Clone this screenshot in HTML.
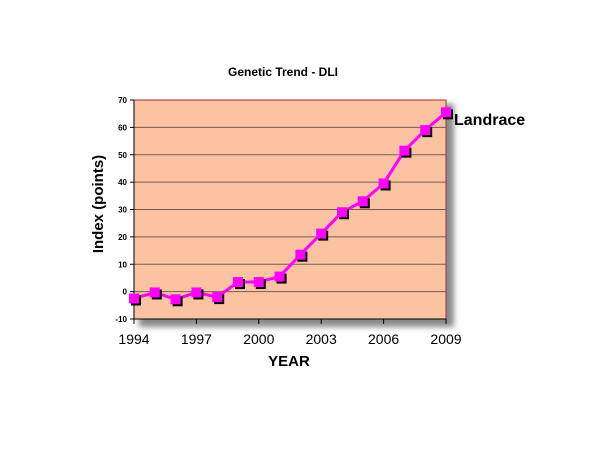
<!DOCTYPE html>
<html><head><meta charset="utf-8"><style>
body{margin:0;background:#fff;}
svg{display:block;font-family:"Liberation Sans",Arial,sans-serif;}
</style></head><body>
<svg id="c" width="600" height="450" viewBox="0 0 600 450">
<defs><filter id="blur" x="-10%" y="-10%" width="130%" height="130%"><feGaussianBlur stdDeviation="3"/></filter></defs>
<text x="283" y="76" text-anchor="middle" font-size="12" font-weight="bold">Genetic Trend - DLI</text>
<rect x="139" y="104" width="315" height="223" fill="#8a8a8a" filter="url(#blur)"/>
<rect x="134" y="100" width="312" height="219" fill="#fcc3a2" stroke="#a03030" stroke-width="1"/>
<g id="grid"></g><g id="axes"></g><g id="series"></g>
<text x="289" y="366" text-anchor="middle" font-size="15" font-weight="bold">YEAR</text>
<text transform="translate(103,204) rotate(-90)" text-anchor="middle" font-size="15" font-weight="bold">Index (points)</text>
<text x="454" y="125" font-size="16" font-weight="bold">Landrace</text>
</svg>
<script>
const years=[1994,1995,1996,1997,1998,1999,2000,2001,2002,2003,2004,2005,2006,2007,2008,2009];
const landrace=[-2.5,-0.3,-2.8,-0.3,-2,3.5,3.5,5.5,13.5,21.2,29,33,39.5,51.5,59,65.5];
const yTicks=[-10,0,10,20,30,40,50,60,70];
const xTicks=[1994,1997,2000,2003,2006,2009];
const NS="http://www.w3.org/2000/svg";
const X0=134,X1=446,Y0=319,Y1=100;
const xs=v=>X0+(v-1994)/(2009-1994)*(X1-X0);
const ys=v=>Y0-(v+10)/80*(Y0-Y1);
function mk(t,a,p){const e=document.createElementNS(NS,t);for(const k in a)e.setAttribute(k,a[k]);p.appendChild(e);return e;}
const grid=document.getElementById('grid'),axes=document.getElementById('axes'),ser=document.getElementById('series');
yTicks.forEach(v=>{
 if(v>-10&&v<70){const l=mk('line',{x1:X0,x2:X1,y1:ys(v),y2:ys(v),stroke:'#7a5a50','stroke-width':1},grid);
 
 }
 const tk=mk('line',{x1:X0-4,x2:X0,y1:ys(v),y2:ys(v),stroke:'#000'},axes);
 
 
 const t=mk('text',{x:X0-7,y:ys(v)+3,'text-anchor':'end','font-size':8,'font-weight':'bold'},axes);
 t.textContent=v;
 
 
});
const ax=mk('line',{x1:X0,x2:X1,y1:Y0,y2:Y0,stroke:'#000'},axes);


const ay=mk('line',{x1:X0,x2:X0,y1:Y0,y2:Y1,stroke:'#000'},axes);


xTicks.forEach(v=>{
 const tk=mk('line',{x1:xs(v),x2:xs(v),y1:Y0,y2:Y0+5,stroke:'#000'},axes);
 
 
 const t=mk('text',{x:xs(v),y:Y0+25,'text-anchor':'middle','font-size':14},axes);
 t.textContent=v;
 
 
});
const pts=years.map((y,i)=>xs(y)+','+ys(landrace[i])).join(' ');
const pl=mk('polyline',{points:pts,fill:'none',stroke:'#ff00ff','stroke-width':3},ser);


years.forEach((y,i)=>{
 const cx=xs(y),cy=ys(landrace[i]);
 const s=mk('rect',{x:cx-3,y:cy-3,width:10,height:10,fill:'#000'},ser);
 
 
 const m=mk('rect',{x:cx-5,y:cy-5,width:10,height:10,fill:'#ff00ff'},ser);
 
 
});
</script>
</body></html>
